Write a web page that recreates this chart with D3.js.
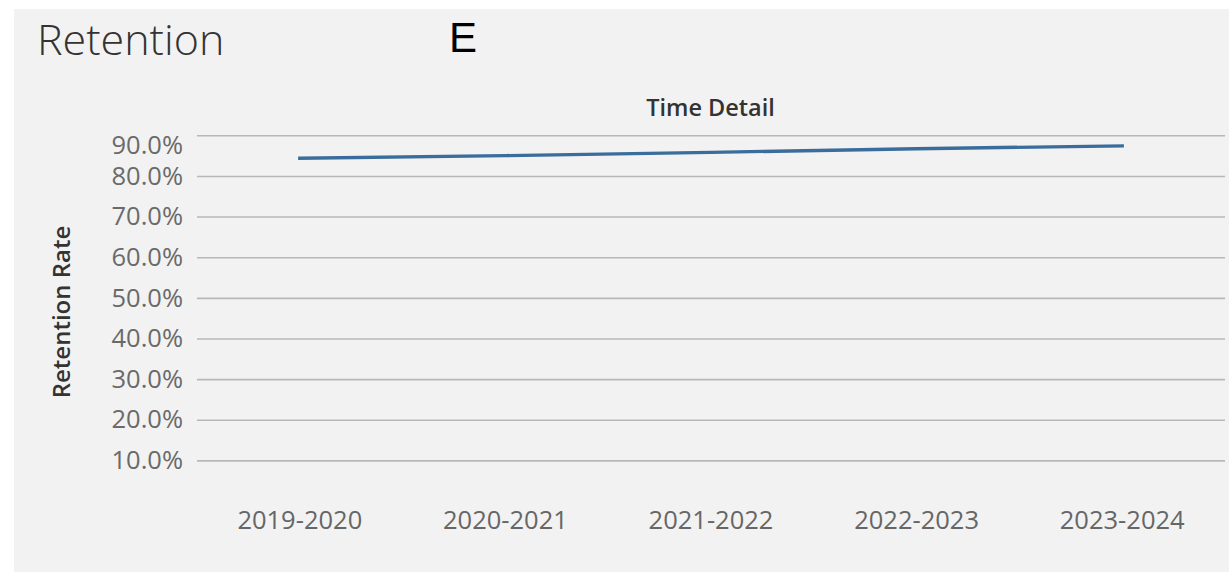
<!DOCTYPE html>
<html>
<head>
<meta charset="utf-8">
<script src="https://cdn.jsdelivr.net/npm/d3@7"></script>
<style>
  html, body { margin: 0; padding: 0; background: #ffffff; }
  svg { display: block; }
</style>
</head>
<body>
<svg id="chart" width="1229" height="575"></svg>
<script>
// School years on the x axis
const years = ["2019-2020", "2020-2021", "2021-2022", "2022-2023", "2023-2024"];
// Retention rate per year (fraction)
const retention = [0.8435, 0.850, 0.858, 0.867, 0.874];
// Value-axis ticks
const yTicks = [0.1, 0.2, 0.3, 0.4, 0.5, 0.6, 0.7, 0.8, 0.9];

const svg = d3.select("#chart");
const font = "'Open Sans', 'Noto Sans', sans-serif";

// panel background
svg.append("rect")
  .attr("x", 14).attr("y", 9)
  .attr("width", 1229 - 14).attr("height", 572 - 9)
  .attr("fill", "#f2f2f2");

// title
svg.append("text")
  .attr("x", 37).attr("y", 55)
  .attr("font-family", font)
  .attr("font-weight", 300)
  .attr("font-size", 43)
  .attr("fill", "#333333")
  .text("Retention");

svg.append("text")
  .attr("x", 449).attr("y", 52)
  .attr("font-family", "'Liberation Sans', Arial, sans-serif")
  .attr("font-size", 42)
  .attr("fill", "#000000")
  .text("E");

const left = 197, right = 1225;

const x = d3.scaleBand().domain(years).range([left, right]);
const y = d3.scaleLinear().domain([0, 0.9]).range([501, 135.3]);

// header above the pane
svg.append("text")
  .attr("x", 710.5).attr("y", 116)
  .attr("text-anchor", "middle")
  .attr("font-family", font)
  .attr("font-weight", 600)
  .attr("font-size", 23.5)
  .attr("fill", "#333333")
  .text("Time Detail");

// y axis with gridlines
const yAxis = d3.axisLeft(y)
  .tickValues(yTicks)
  .tickFormat(d3.format(".1%"))
  .tickSizeInner(-(right - left))
  .tickSizeOuter(0)
  .tickPadding(14);

const gy = svg.append("g")
  .attr("transform", `translate(${left},0)`)
  .call(yAxis);
gy.select(".domain").remove();
gy.selectAll(".tick line")
  .attr("stroke", "#b8b8b8")
  .attr("stroke-width", 1.6);
// labels stay inside the pane: the top one is nudged down
gy.selectAll(".tick text")
  .attr("font-family", font)
  .attr("font-size", 25.5)
  .attr("fill", "#6a6a6a")
  .attr("dy", "0.32em")
  .attr("y", d => Math.max(0, 145 - y(d)));

// y axis title
svg.append("text")
  .attr("transform", "translate(70,312) rotate(-90)")
  .attr("text-anchor", "middle")
  .attr("font-family", font)
  .attr("font-weight", 600)
  .attr("font-size", 24)
  .attr("fill", "#333333")
  .text("Retention Rate");

// x axis labels
const xAxis = d3.axisBottom(x).tickSize(0).tickPadding(0);
const gx = svg.append("g")
  .attr("transform", "translate(0,511)")
  .call(xAxis);
gx.select(".domain").remove();
gx.selectAll(".tick text")
  .attr("font-family", font)
  .attr("font-size", 25.5)
  .attr("fill", "#666666");

// retention line through band centres
const line = d3.line()
  .x((d, i) => x(years[i]) + x.bandwidth() / 2)
  .y(d => y(d));

svg.append("path")
  .datum(retention)
  .attr("d", line)
  .attr("fill", "none")
  .attr("stroke", "#3a6d9c")
  .attr("stroke-width", 3.4)
  .attr("stroke-linejoin", "round")
  .attr("stroke-linecap", "square");
</script>
</body>
</html>
